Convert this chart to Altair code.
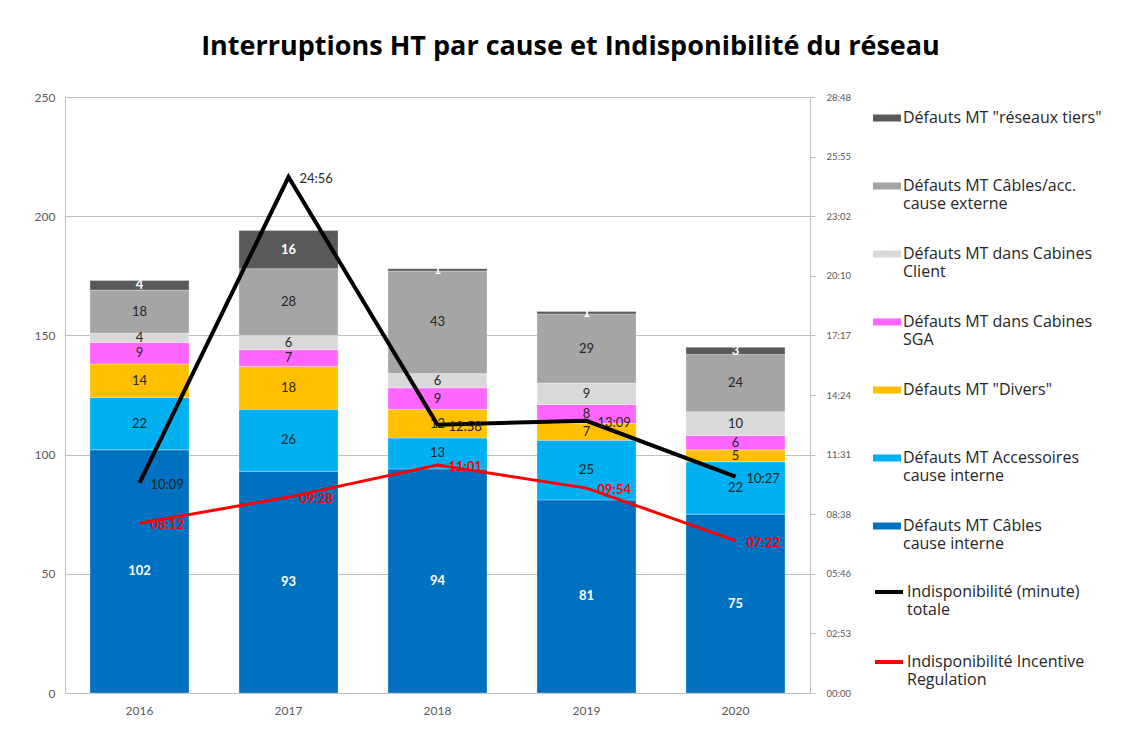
import altair as alt
import pandas as pd

years = ["2016", "2017", "2018", "2019", "2020"]

# bar series, listed from bottom of stack to top
cables_interne = [102, 93, 94, 81, 75]
accessoires_interne = [22, 26, 13, 25, 22]
divers = [14, 18, 12, 7, 5]
cabines_sga = [9, 7, 9, 8, 6]
cabines_client = [4, 6, 6, 9, 10]
cables_externe = [18, 28, 43, 29, 24]
reseaux_tiers = [4, 16, 1, 1, 3]

# line series (mm:ss)
indispo_totale = ["10:09", "24:56", "12:58", "13:09", "10:27"]
indispo_incentive = ["08:12", "09:28", "11:01", "09:54", "07:22"]

bar_names = [
    "Défauts MT Câbles|cause interne",
    "Défauts MT Accessoires|cause interne",
    'Défauts MT "Divers"',
    "Défauts MT dans Cabines|SGA",
    "Défauts MT dans Cabines|Client",
    "Défauts MT Câbles/acc.|cause externe",
    'Défauts MT "réseaux tiers"',
]
bar_values = [cables_interne, accessoires_interne, divers, cabines_sga,
              cabines_client, cables_externe, reseaux_tiers]
bar_colors = ["#0070C0", "#00B0F0", "#FFC000", "#FF66FF",
              "#D9D9D9", "#A5A5A5", "#595959"]
white_label = [True, False, False, False, False, False, True]

line_names = ["Indisponibilité (minute)|totale",
              "Indisponibilité Incentive|Regulation"]
line_values = [indispo_totale, indispo_incentive]
line_colors = ["#000000", "#FF0000"]

rows = []
for k, (name, vals) in enumerate(zip(bar_names, bar_values)):
    for y, v in zip(years, vals):
        rows.append({"year": y, "cause": name, "value": v, "order": k,
                     "white": white_label[k]})
bars_df = pd.DataFrame(rows)

lrows = []
for name, vals in zip(line_names, line_values):
    for y, t in zip(years, vals):
        m, s = t.split(":")
        lrows.append({"year": y, "series": name, "label": t,
                      "minutes": int(m) + int(s) / 60})
lines_df = pd.DataFrame(lrows)

FONT = "Lato"
LFONT = "Open Sans"
GRID = "#BFBFBF"
LAB = "#595959"

x_enc = alt.X("year:N", title=None,
              scale=alt.Scale(paddingInner=0.335, paddingOuter=0.1675),
              axis=alt.Axis(labelAngle=0, ticks=False, labelPadding=12,
                            domainColor=GRID, labelColor=LAB, labelFontSize=12,
                            labelFont=FONT))

left_scale = alt.Scale(domain=[0, 250], nice=False)
left_axis = alt.Axis(values=[0, 50, 100, 150, 200, 250], ticks=False,
                     grid=True, gridColor=GRID, domainColor=GRID,
                     labelColor=LAB, labelFontSize=12, labelFont=FONT,
                     labelPadding=10, minExtent=52)

legend_order = list(reversed(bar_names))
legend_colors = list(reversed(bar_colors))

bars = alt.Chart(bars_df).mark_bar(stroke="white", strokeWidth=0.5,
                                   strokeOpacity=0.6).encode(
    x=x_enc,
    y=alt.Y("value:Q", stack="zero", scale=left_scale, axis=left_axis,
            title=None),
    fill=alt.Fill("cause:N",
                  scale=alt.Scale(domain=legend_order, range=legend_colors),
                  legend=alt.Legend(title=" ", titleFontSize=2,
                                    titlePadding=5, orient="right",
                                    labelExpr="split(datum.label, '|')",
                                    symbolType="M-1,-0.25H1V0.25H-1Z",
                                    symbolSize=784, symbolStrokeWidth=0,
                                    labelFontSize=16, labelFont=LFONT,
                                    labelColor="#262626", rowPadding=28,
                                    labelOffset=2,
                                    labelLimit=300, offset=22,
                                    gridAlign="all")),
    order=alt.Order("order:Q", sort="ascending"),
)

stacked = alt.Chart(bars_df).transform_stack(
    stack="value", groupby=["year"],
    sort=[alt.SortField("order", order="ascending")],
    as_=["y0", "y1"],
).transform_calculate(mid="(datum.y0 + datum.y1) / 2")

txt_white = stacked.transform_filter("datum.white").mark_text(
    color="white", fontWeight="bold", fontSize=13, font=FONT).encode(
    x=alt.X("year:N"),
    y=alt.Y("mid:Q", scale=left_scale, title=None),
    text="value:Q",
)
txt_dark = stacked.transform_filter("!datum.white").mark_text(
    color="#262626", fontSize=13, font=FONT).encode(
    x=alt.X("year:N"),
    y=alt.Y("mid:Q", scale=left_scale, title=None),
    text="value:Q",
)

right_ticks = [i * 2.88 for i in range(11)]
right_scale = alt.Scale(domain=[0, 28.8], nice=False)
right_axis = alt.Axis(orient="right", values=right_ticks, grid=False,
                      ticks=True, tickSize=5, tickColor=GRID,
                      domainColor=GRID, labelColor=LAB, labelFontSize=9.5,
                      labelFont=FONT, labelPadding=11,
                      labelExpr="(floor(datum.value) < 10 ? '0' : '') + floor(datum.value) + ':' + (round((datum.value - floor(datum.value)) * 60) < 10 ? '0' : '') + round((datum.value - floor(datum.value)) * 60)")

stroke_scale = alt.Scale(domain=line_names, range=line_colors)
stroke_legend = alt.Legend(title=" ", titleFontSize=2, titlePadding=14,
                           orient="right",
                           labelExpr="split(datum.label, '|')",
                           symbolType="stroke", symbolSize=784,
                           symbolStrokeWidth=4, labelFontSize=16,
                           labelFont=LFONT, labelColor="#262626",
                           rowPadding=28, labelOffset=2,
                           labelLimit=300, offset=22,
                           gridAlign="all")

line_base = alt.Chart(lines_df).encode(
    x=alt.X("year:N"),
    y=alt.Y("minutes:Q", scale=right_scale, axis=right_axis, title=None),
    stroke=alt.Stroke("series:N", scale=stroke_scale, legend=stroke_legend),
)
line_tot = line_base.transform_filter(
    alt.datum.series == line_names[0]).mark_line(strokeWidth=4)
line_inc = line_base.transform_filter(
    alt.datum.series == line_names[1]).mark_line(strokeWidth=3)

lab_tot = alt.Chart(lines_df).transform_filter(
    alt.datum.series == line_names[0]).mark_text(
    align="left", dx=11, dy=2, color="#262626", fontSize=13, font=FONT).encode(
    x=alt.X("year:N"),
    y=alt.Y("minutes:Q", scale=right_scale, title=None),
    text="label:N",
)
lab_inc = alt.Chart(lines_df).transform_filter(
    alt.datum.series == line_names[1]).mark_text(
    align="left", dx=11, dy=2, color="#FF0000", fontSize=13,
    fontWeight="bold", font=FONT).encode(
    x=alt.X("year:N"),
    y=alt.Y("minutes:Q", scale=right_scale, title=None),
    text="label:N",
)

left = alt.layer(bars, txt_white, txt_dark)
right = alt.layer(line_tot, line_inc, lab_tot, lab_inc)

chart = alt.layer(left, right).resolve_scale(y="independent").properties(
    width=745, height=596,
    title=alt.TitleParams(
        "Interruptions HT par cause et Indisponibilité du réseau",
        fontSize=27, font=LFONT, fontWeight="bold", color="#000000",
        anchor="middle", offset=30, dx=133),
    padding={"top": 25, "left": 5, "right": 5, "bottom": 5},
).configure_view(stroke=None)

chart.save("out.html", embed_options={"renderer": "svg", "actions": False})
